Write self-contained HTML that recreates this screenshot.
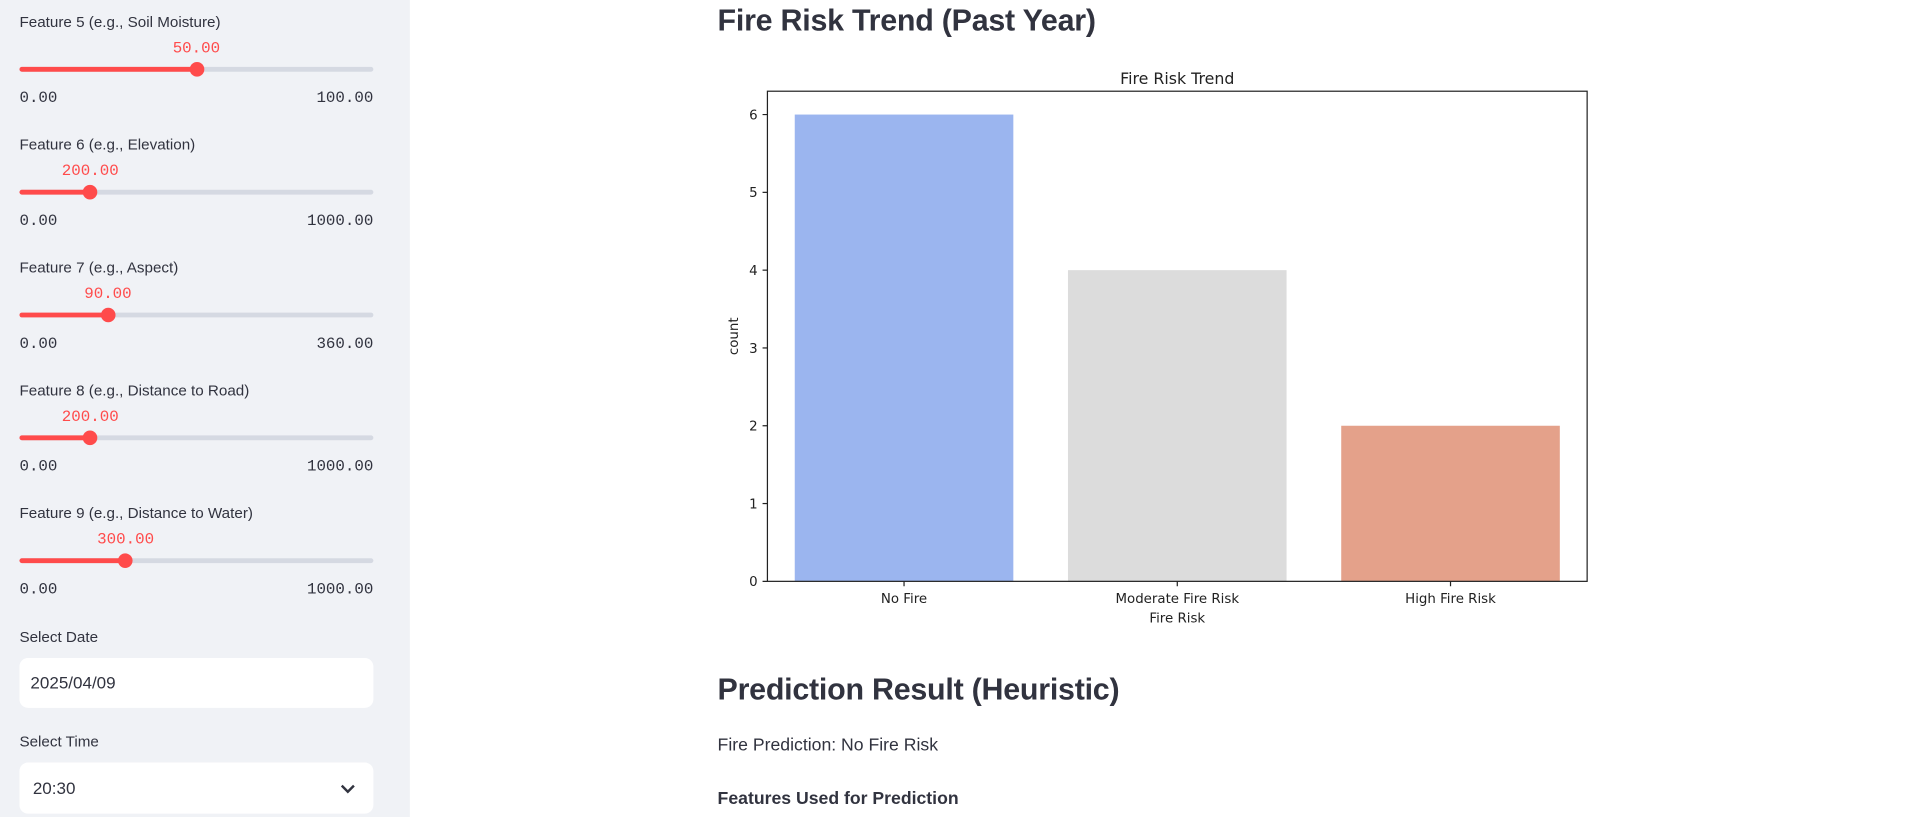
<!DOCTYPE html>
<html><head><meta charset="utf-8"><style>
html,body{margin:0;padding:0;width:1907px;height:817px;overflow:hidden;background:#fff}
#root{position:absolute;left:0;top:0;width:1568px;height:672px;transform:scale(1.2162);transform-origin:0 0;font-family:"Liberation Sans",sans-serif;color:#31333f}
.sb{position:absolute;left:0;top:0;width:337px;height:672px;background:#f0f2f6}
.lbl{position:absolute;left:16px;font-size:12.5px;color:#31333f}
.val{position:absolute;font-family:"Liberation Mono",monospace;font-size:13px;color:#ff4b4b;transform:translateX(-50%)}
.mm{position:absolute;font-family:"Liberation Mono",monospace;font-size:13px;color:#31333f}
.track{position:absolute;left:16px;width:291px;height:4px;background:#d5d9e2;border-radius:2px}
.fill{position:absolute;left:0;top:0;height:4px;background:#ff4b4b;border-radius:2px}
.thumb{position:absolute;top:-4px;width:12px;height:12px;border-radius:50%;background:#ff4b4b;margin-left:-6px}
.box{position:absolute;left:16px;width:291px;background:#fff;border-radius:7px;font-size:14px}
h2{position:absolute;margin:0;left:590px;font-size:25px;font-weight:bold;color:#31333f;white-space:nowrap;letter-spacing:-0.2px}
.p{position:absolute;left:590px;font-size:14.5px;white-space:nowrap}
</style></head><body><div id="root">
<div class="sb" id="sb"></div>
<h2 style="top:3px">Fire Risk Trend (Past Year)</h2>
<svg id="chart" style="position:absolute;left:580px;top:50px" width="740" height="470"></svg>
<h2 style="top:553px">Prediction Result (Heuristic)</h2>
<div class="p" style="top:605px">Fire Prediction: No Fire Risk</div>
<div class="p" style="top:649px;font-weight:bold">Features Used for Prediction</div>
<script>
const sliders=[["Feature 5 (e.g., Soil Moisture)",50,100,"50.00","100.00"],["Feature 6 (e.g., Elevation)",200,1000,"200.00","1000.00"],["Feature 7 (e.g., Aspect)",90,360,"90.00","360.00"],["Feature 8 (e.g., Distance to Road)",200,1000,"200.00","1000.00"],["Feature 9 (e.g., Distance to Water)",300,1000,"300.00","1000.00"]];
const sb=document.getElementById('sb');
sliders.forEach((s,i)=>{const y=i*101;const px=s[1]/s[2]*291;
const d=document.createElement('div');


d.innerHTML=`<div class="lbl" style="top:${y+11}px">${s[0]}</div><div class="val" style="left:${16+px}px;top:${y+32}px">${s[3]}</div><div class="track" style="top:${y+55}px"><div class="fill" style="width:${px}px"></div><div class="thumb" style="left:${px}px"></div></div><div class="mm" style="left:16px;top:${y+73}px">0.00</div><div class="mm" style="right:30px;top:${y+73}px">${s[4]}</div>`;
sb.appendChild(d);});
const ex=document.createElement('div');
ex.innerHTML=`<div class="lbl" style="top:517px">Select Date</div><div class="box" style="top:541px;height:41px"><span style="position:absolute;left:9px;top:12px">2025/04/09</span></div><div class="lbl" style="top:603px">Select Time</div><div class="box" style="top:627px;height:42px"><span style="position:absolute;left:11px;top:13px">20:30</span><svg style="position:absolute;left:264px;top:18px" width="12" height="8"><path d="M1 1L6 6L11 1" stroke="#31333f" stroke-width="2" fill="none"/></svg></div>`;
sb.appendChild(ex);

const categories=["No Fire","Moderate Fire Risk","High Fire Risk"];
const counts=[6,4,2];
const colors=["#9bb5ef","#dcdcdc","#e4a18a"];
const yTicks=[0,1,2,3,4,5,6];
const svg=document.getElementById('chart');const NS='http://www.w3.org/2000/svg';
const L=51,R=725,T=25,B=428,ymax=6.3;
const ys=v=>B-(v/ymax)*(B-T);
const xs=i=>L+(R-L)*(i+0.5)/categories.length;
const bw=(R-L)/categories.length*0.8;
function el(t,a,txt){const e=document.createElementNS(NS,t);for(const k in a)e.setAttribute(k,a[k]);if(txt!==undefined)e.textContent=txt;svg.appendChild(e);return e;}
counts.forEach((v,i)=>{const r=el('rect',{x:xs(i)-bw/2,y:ys(v),width:bw,height:B-ys(v),fill:colors[i]});

});
el('rect',{x:L,y:T,width:R-L,height:B-T,fill:'none',stroke:'#222','stroke-width':1});
yTicks.forEach(t=>{el('line',{x1:L-4,x2:L,y1:ys(t),y2:ys(t),stroke:'#222'});
const tx=el('text',{x:L-8,y:ys(t)+4,'text-anchor':'end','font-size':11,'font-family':'DejaVu Sans,sans-serif',fill:'#222'},t);

});
categories.forEach((c,i)=>{el('line',{x1:xs(i),x2:xs(i),y1:B,y2:B+4,stroke:'#222'});
const tx=el('text',{x:xs(i),y:B+18,'text-anchor':'middle','font-size':11,'font-family':'DejaVu Sans,sans-serif',fill:'#222'},c);

});
const xt=el('text',{x:(L+R)/2,y:B+34,'text-anchor':'middle','font-size':11,'font-family':'DejaVu Sans,sans-serif',fill:'#222'},'Fire Risk');


const yt=el('text',{x:0,y:0,transform:`translate(27,${(T+B)/2}) rotate(-90)`,'text-anchor':'middle','font-size':11,'font-family':'DejaVu Sans,sans-serif',fill:'#222'},'count');


const ct=el('text',{x:(L+R)/2,y:T-6,'text-anchor':'middle','font-size':13,'font-family':'DejaVu Sans,sans-serif',fill:'#222'},'Fire Risk Trend');


</script>
</div></body></html>
